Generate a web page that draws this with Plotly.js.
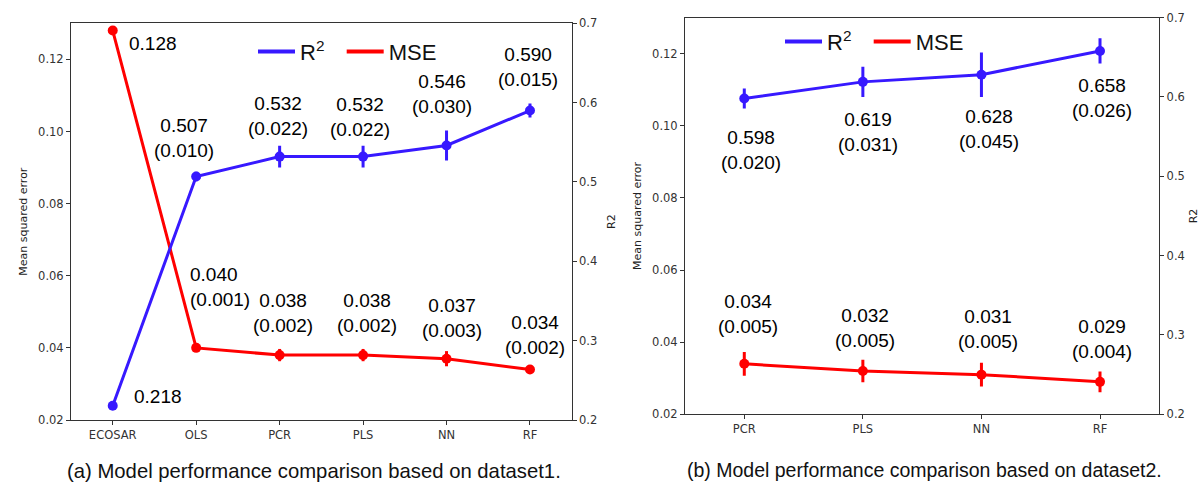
<!DOCTYPE html>
<html>
<head>
<meta charset="utf-8">
<script src="https://cdn.plot.ly/plotly-3.0.1.min.js"></script>
<style>html,body{margin:0;padding:0;background:#fff}#chart{width:1200px;height:483px}</style>
</head>
<body>
<div id="chart"></div>
<script>
// ---------- data: panel (a) dataset1 ----------
const cats1 = ['ECOSAR', 'OLS', 'PCR', 'PLS', 'NN', 'RF'];
const mse1 = [0.128, 0.040, 0.038, 0.038, 0.037, 0.034];
const mse1Std = [null, 0.001, 0.002, 0.002, 0.003, 0.002];
const mse1Err = [0, 0.0007, 0.0017, 0.0017, 0.0021, 0.0012];
const r2_1 = [0.218, 0.507, 0.532, 0.532, 0.546, 0.590];
const r2_1Std = [null, 0.010, 0.022, 0.022, 0.030, 0.015];
const r2_1Err = [0, 0.006, 0.0137, 0.0137, 0.019, 0.0088];

// ---------- data: panel (b) dataset2 ----------
const cats2 = ['PCR', 'PLS', 'NN', 'RF'];
const mse2 = [0.034, 0.032, 0.031, 0.029];
const mse2Std = [0.005, 0.005, 0.005, 0.004];
const mse2Err = [0.0033, 0.0031, 0.0033, 0.0029];
const r2_2 = [0.598, 0.619, 0.628, 0.658];
const r2_2Std = [0.020, 0.031, 0.045, 0.026];
const r2_2Err = [0.0125, 0.019, 0.028, 0.016];

const captionA = '(a) Model performance comparison based on dataset1.';
const captionB = '(b) Model performance comparison based on dataset2.';

// ---------- style ----------
const BLUE = 'rgb(55,25,255)';
const RED = 'rgb(255,0,0)';
const W = 1200, H = 483;
const LABEL_FONT = {family: 'Liberation Sans, Arial, sans-serif', size: 19, color: '#000'};
const TICK_FONT = {family: 'DejaVu Sans, sans-serif', size: 11.5, color: '#333'};

// label pixel offsets (style only): [dx, dyUp, align]
const off_r2_1 = [[45, 9], [-12, 38], [-2, 41], [-3, 40], [-5, 51], [-2, 43.5]];
const off_mse1 = [[40, -13], [-8, 61, 'left'], [3, 42.5], [4, 41.7], [5.7, 40.3], [5, 34.5]];
const off_r2_2 = [[7, -51], [5, -50], [8, -54], [2.4, -47]];
const off_mse2 = [[3.5, 50], [1.7, 43], [6.3, 46], [2.4, 42.5]];

function fmt(v, s) {
  return s == null ? v.toFixed(3) : v.toFixed(3) + '<br>(' + s.toFixed(3) + ')';
}

function series(x, y, err, color, xa, ya) {
  return {
    x: x, y: y, xaxis: xa, yaxis: ya, type: 'scatter', mode: 'lines+markers',
    showlegend: false, hoverinfo: 'skip',
    line: {color: color, width: 3},
    marker: {color: color, size: 10},
    error_y: {type: 'data', array: err, visible: true, color: color, thickness: 3, width: 0}
  };
}
function legendTrace(name, color, xa, ya, lg) {
  return {x: [null], y: [null], xaxis: xa, yaxis: ya, type: 'scatter', mode: 'lines',
    name: name, legend: lg, showlegend: true, line: {color: color, width: 4}};
}

const PAD = '\u00a0\u00a0';
const traces = [
  series(cats1, mse1, mse1Err, RED, 'x', 'y'),
  series(cats1, r2_1, r2_1Err, BLUE, 'x', 'y2'),
  series(cats2, mse2, mse2Err, RED, 'x2', 'y3'),
  series(cats2, r2_2, r2_2Err, BLUE, 'x2', 'y4'),
  legendTrace('R<sup>2</sup>' + PAD, BLUE, 'x', 'y', 'legend'),
  legendTrace('MSE', RED, 'x', 'y', 'legend'),
  legendTrace('R<sup>2</sup>' + PAD, BLUE, 'x2', 'y3', 'legend2'),
  legendTrace('MSE', RED, 'x2', 'y3', 'legend2')
];

const annotations = [];
function addLabels(cats, vals, stds, offs, xref, yref) {
  cats.forEach((c, i) => {
    const o = offs[i];
    const al = o[2] || 'center';
    annotations.push({
      x: c, y: vals[i], xref: xref, yref: yref,
      text: fmt(vals[i], stds[i]), showarrow: false,
      xanchor: al, yanchor: 'middle', align: al,
      xshift: o[0], yshift: o[1], font: LABEL_FONT
    });
  });
}
addLabels(cats1, r2_1, r2_1Std, off_r2_1, 'x', 'y2');
addLabels(cats1, mse1, mse1Std, off_mse1, 'x', 'y');
addLabels(cats2, r2_2, r2_2Std, off_r2_2, 'x2', 'y4');
addLabels(cats2, mse2, mse2Std, off_mse2, 'x2', 'y3');

annotations.push({xref: 'paper', yref: 'paper', x: 314 / W, y: 1 - 471 / H, xanchor: 'center', yanchor: 'middle',
  showarrow: false, text: captionA, font: {family: 'Liberation Sans, Arial, sans-serif', size: 20.3, color: '#111'}});
annotations.push({xref: 'paper', yref: 'paper', x: 924 / W, y: 1 - 470 / H, xanchor: 'center', yanchor: 'middle',
  showarrow: false, text: captionB, font: {family: 'Liberation Sans, Arial, sans-serif', size: 19.5, color: '#111'}});

const axBase = {
  showline: true, linecolor: '#333', linewidth: 1, ticks: 'outside', ticklen: 4, tickwidth: 1,
  tickcolor: '#333', tickfont: TICK_FONT, showgrid: false, zeroline: false, fixedrange: true
};
const titleFont = {family: 'DejaVu Sans, sans-serif', size: 11, color: '#222'};
const legFont = {family: 'Liberation Sans, Arial, sans-serif', size: 22, color: '#111'};

const layout = {
  width: W, height: H, margin: {l: 0, r: 0, t: 0, b: 0},
  paper_bgcolor: '#fff', plot_bgcolor: '#fff', showlegend: true,
  xaxis: Object.assign({}, axBase, {domain: [71 / W, 571.7 / W], anchor: 'y', type: 'category',
    range: [-0.5, 5.5], mirror: true}),
  yaxis: Object.assign({}, axBase, {domain: [1 - 420 / H, 1 - 23.3 / H], anchor: 'x', range: [0.02, 0.13],
    dtick: 0.02, tick0: 0, tickformat: '.2f',
    title: {text: 'Mean squared error', font: titleFont, standoff: 8}}),
  yaxis2: Object.assign({}, axBase, {overlaying: 'y', side: 'right', anchor: 'x', range: [0.2, 0.7],
    dtick: 0.1, tick0: 0, tickformat: '.1f', title: {text: 'R2', font: titleFont, standoff: 11}}),
  xaxis2: Object.assign({}, axBase, {domain: [685 / W, 1159.3 / W], anchor: 'y3', type: 'category',
    range: [-0.5, 3.5], mirror: true}),
  yaxis3: Object.assign({}, axBase, {domain: [1 - 414.3 / H, 1 - 17.6 / H], anchor: 'x2', range: [0.02, 0.13],
    dtick: 0.02, tick0: 0, tickformat: '.2f',
    title: {text: 'Mean squared error', font: titleFont, standoff: 8}}),
  yaxis4: Object.assign({}, axBase, {overlaying: 'y3', side: 'right', anchor: 'x2', range: [0.2, 0.7],
    dtick: 0.1, tick0: 0, tickformat: '.1f', title: {text: 'R2', font: titleFont, standoff: 9}}),
  legend: {orientation: 'h', x: 253 / W, y: 1 - 51.7 / H, xanchor: 'left', yanchor: 'middle',
    itemwidth: 37, bgcolor: 'rgba(0,0,0,0)', borderwidth: 0, font: legFont},
  legend2: {orientation: 'h', x: 780 / W, y: 1 - 41.7 / H, xanchor: 'left', yanchor: 'middle',
    itemwidth: 37, bgcolor: 'rgba(0,0,0,0)', borderwidth: 0, font: legFont},
  annotations: annotations
};

Plotly.newPlot('chart', traces, layout, {staticPlot: true, displayModeBar: false});
</script>
</body>
</html>
